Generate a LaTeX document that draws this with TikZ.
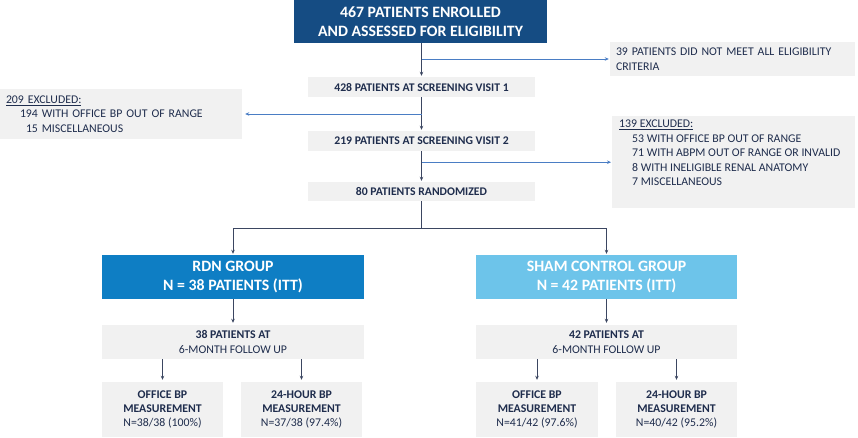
\documentclass[tikz,border=0pt]{standalone}
\usepackage{fontspec}
\setmainfont{Carlito}
\usetikzlibrary{arrows.meta}
\definecolor{topblue}{HTML}{154C83}
\definecolor{rdnblue}{HTML}{0E7EC4}
\definecolor{shamblue}{HTML}{6DC4EA}
\definecolor{boxgrey}{HTML}{F1F1F1}
\definecolor{navy}{HTML}{1F2D4D}
\definecolor{darkline}{HTML}{3B4661}
\definecolor{blueline}{HTML}{4A7DC4}
\begin{document}
\begin{tikzpicture}[x=1pt,y=-1pt,
  bigbox/.style={text=white, inner sep=0pt, align=center,
    font=\bfseries\fontsize{15.8}{18.5}\selectfont},
  greybox/.style={fill=boxgrey, text=navy, inner sep=0pt, align=center,
    font=\bfseries\fontsize{11.7}{13}\selectfont},
  subbox/.style={fill=boxgrey, text=navy, inner sep=0pt, align=center,
    font=\fontsize{11.8}{14.4}\selectfont},
  exbox/.style={fill=boxgrey, text=navy, align=left, inner xsep=6pt, inner ysep=0pt,
    font=\fontsize{11.8}{14.5}\selectfont},
  darrow/.style={draw=darkline, line width=0.8pt, -{Stealth[length=4pt,width=3.5pt]}},
  dline/.style={draw=darkline, line width=0.8pt},
  barrow/.style={draw=blueline, line width=0.8pt, -{Stealth[length=4pt,width=3.5pt]}}
]
\useasboundingbox (0,0) rectangle (858,437);

\node[bigbox, fill=topblue, minimum width=253pt, minimum height=43pt] (top) at (420.5,21.5)
  {467 PATIENTS ENROLLED\\AND ASSESSED FOR ELIGIBILITY};

\node[greybox, minimum width=227pt, minimum height=20pt] (s1) at (421.5,87)
  {428 PATIENTS AT SCREENING VISIT 1};
\node[greybox, minimum width=227pt, minimum height=20pt] (s2) at (421.5,141)
  {219 PATIENTS AT SCREENING VISIT 2};
\node[greybox, minimum width=227pt, minimum height=19pt] (rand) at (421.5,191.5)
  {80 PATIENTS RANDOMIZED};

\node[exbox, text width=233pt, minimum height=34pt] (ex1) at (732.5,59)
  {39 PATIENTS DID NOT MEET ALL ELIGIBILITY\\CRITERIA};
\node[exbox, text width=230pt, minimum height=50pt] (ex2) at (121,114)
  {\underline{209 EXCLUDED:}\\\hspace*{14pt}194 WITH OFFICE BP OUT OF RANGE\\\hspace*{20pt}15 MISCELLANEOUS};
\node[fill=boxgrey, text=navy, inner sep=0pt, anchor=north west,
  font=\fontsize{11.8}{14.5}\selectfont] (ex3) at (612,116)
  {\parbox[c][92pt][t]{243pt}{\vspace*{4pt}\hspace*{7pt}\underline{139 EXCLUDED:}\\
   \hspace*{20pt}53 WITH OFFICE BP OUT OF RANGE\\
   \hspace*{20pt}71 WITH ABPM OUT OF RANGE OR INVALID\\
   \hspace*{20pt}8 WITH INELIGIBLE RENAL ANATOMY\\
   \hspace*{20pt}7 MISCELLANEOUS}};

\node[bigbox, fill=rdnblue, minimum width=262pt, minimum height=44pt] (rdn) at (233,277)
  {RDN GROUP\\N = 38 PATIENTS (ITT)};
\node[bigbox, fill=shamblue, minimum width=261pt, minimum height=44pt] (sham) at (606.5,277)
  {SHAM CONTROL GROUP\\N = 42 PATIENTS (ITT)};

\node[subbox, minimum width=262pt, minimum height=34pt] (fu1) at (233,342)
  {\textbf{38 PATIENTS AT}\\6-MONTH FOLLOW UP};
\node[subbox, minimum width=261pt, minimum height=34pt] (fu2) at (606.5,342)
  {\textbf{42 PATIENTS AT}\\6-MONTH FOLLOW UP};

\node[subbox, minimum width=121pt, minimum height=55pt] (ob1) at (162.5,409.5)
  {\textbf{OFFICE BP}\\\textbf{MEASUREMENT}\\N=38/38 (100\%)};
\node[subbox, minimum width=121pt, minimum height=55pt] (hb1) at (301.5,409.5)
  {\textbf{24-HOUR BP}\\\textbf{MEASUREMENT}\\N=37/38 (97.4\%)};
\node[subbox, minimum width=122pt, minimum height=55pt] (ob2) at (537,409.5)
  {\textbf{OFFICE BP}\\\textbf{MEASUREMENT}\\N=41/42 (97.6\%)};
\node[subbox, minimum width=121pt, minimum height=55pt] (hb2) at (676.5,409.5)
  {\textbf{24-HOUR BP}\\\textbf{MEASUREMENT}\\N=40/42 (95.2\%)};

% main flow
\draw[darrow, shorten >=1pt] (top.south -| s1.north) -- (s1.north);
\draw[darrow, shorten >=1pt] (s1.south) -- (s2.north);
\draw[darrow, shorten >=1pt] (s2.south) -- (rand.north);
\coordinate (split) at (421.5,228);
\draw[dline] (rand.south) -- (split);
\draw[darrow, shorten >=1pt] (split) -| (rdn.north);
\draw[darrow, shorten >=1pt] (split) -| (sham.north);

% exclusions
\draw[barrow, shorten >=1pt] (s1.north |- ex1.west) -- (ex1.west);
\draw[barrow, shorten >=3pt] (s1.south |- ex2.east) -- (ex2.east);
\draw[barrow, shorten >=1pt] (s2.south |- ex3.west) -- (ex3.west);

% groups to follow up
\draw[darrow, shorten >=2pt] (rdn.south) -- (fu1.north);
\draw[darrow, shorten >=2pt] (sham.south) -- (fu2.north);
\draw[darrow, shorten >=2pt] (fu1.south -| ob1.north) -- (ob1.north);
\draw[darrow, shorten >=2pt] (fu1.south -| hb1.north) -- (hb1.north);
\draw[darrow, shorten >=2pt] (fu2.south -| ob2.north) -- (ob2.north);
\draw[darrow, shorten >=2pt] (fu2.south -| hb2.north) -- (hb2.north);
\end{tikzpicture}
\end{document}
